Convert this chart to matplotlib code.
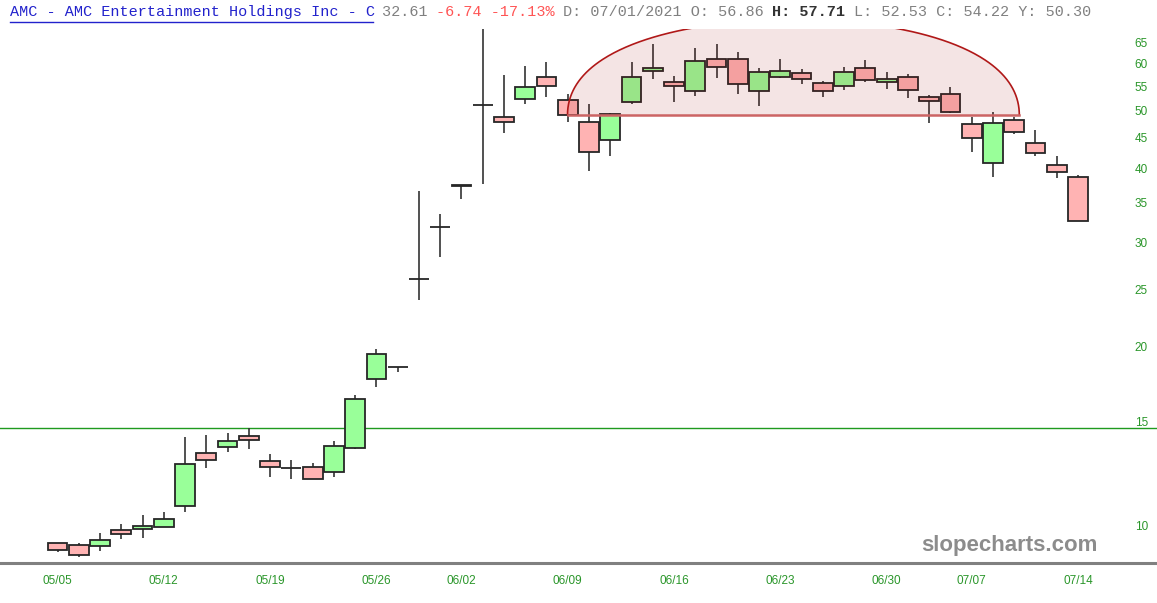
import numpy as np
import matplotlib
matplotlib.use('Agg')
import matplotlib.pyplot as plt
from matplotlib.lines import Line2D
from matplotlib.ticker import NullLocator, FixedLocator, FixedFormatter

# ---------------- data ----------------
dates = ['05/05', '05/06', '05/07', '05/10', '05/11', '05/12', '05/13', '05/14', '05/17', '05/18',
         '05/19', '05/20', '05/21', '05/24', '05/25', '05/26', '05/27', '05/28', '06/01', '06/02',
         '06/03', '06/04', '06/07', '06/08', '06/09', '06/10', '06/11', '06/14', '06/15', '06/16',
         '06/17', '06/18', '06/21', '06/22', '06/23', '06/24', '06/25', '06/28', '06/29', '06/30',
         '07/01', '07/02', '07/06', '07/07', '07/08', '07/09', '07/12', '07/13', '07/14']
opens = [9.33, 9.26, 9.24, 9.82, 9.86, 9.96, 10.80, 13.23, 13.58, 14.17,
         12.86, 12.50, 12.53, 12.29, 13.52, 17.63, 18.52, 26.05, 31.80, 37.40,
         51.20, 48.72, 52.31, 57.03, 52.04, 47.78, 44.56, 51.70, 58.24, 55.93,
         53.89, 61.16, 61.16, 53.95, 56.90, 57.78, 55.59, 54.95, 58.92, 55.80,
         56.86, 52.65, 53.33, 47.52, 40.76, 48.22, 44.15, 40.44, 38.60]
highs = [9.36, 9.33, 9.70, 10.06, 10.40, 10.54, 14.11, 14.22, 14.30, 14.58,
         13.21, 12.89, 12.73, 13.88, 16.57, 19.83, 18.53, 36.61, 33.44, 37.45,
         72.62, 57.41, 59.52, 60.45, 53.27, 51.36, 49.50, 60.38, 64.67, 57.19,
         63.68, 64.74, 62.84, 58.90, 61.00, 58.69, 56.09, 59.22, 60.92, 58.08,
         57.71, 53.06, 54.86, 48.83, 49.67, 48.72, 46.32, 41.97, 39.00]
lows = [9.01, 8.86, 9.07, 9.49, 9.52, 9.94, 10.55, 12.49, 13.29, 13.47,
        12.06, 11.96, 11.96, 12.09, 13.44, 17.13, 18.16, 24.01, 28.37, 35.45,
        37.57, 45.89, 51.36, 52.65, 47.90, 39.56, 41.88, 51.30, 56.59, 51.70,
        52.85, 56.67, 53.27, 50.90, 56.67, 55.50, 52.77, 54.23, 55.93, 54.44,
        52.53, 47.60, 49.50, 42.64, 38.60, 45.67, 41.93, 38.55, 32.61]
closes = [9.09, 8.92, 9.44, 9.67, 9.97, 10.25, 12.68, 12.88, 13.86, 13.92,
          12.55, 12.48, 11.99, 13.60, 16.32, 19.45, 18.49, 26.00, 31.90, 37.36,
          51.12, 47.78, 54.86, 54.95, 49.16, 42.64, 49.29, 56.90, 58.92, 55.02,
          60.61, 59.15, 55.50, 58.08, 58.20, 56.52, 53.89, 58.02, 56.31, 56.52,
          54.22, 51.84, 49.80, 44.91, 47.71, 46.08, 42.47, 39.35, 32.61]
date_ticks = ['05/05', '05/12', '05/19', '05/26', '06/02', '06/09', '06/16', '06/23', '06/30', '07/07', '07/14']
price_ticks = [10, 15, 20, 25, 30, 35, 40, 45, 50, 55, 60, 65]
hline_price = 14.6
# drawn annotation (rounded-top shape) parameters, in data units
arc_start, arc_end = 23.99, 45.24
arc_base, arc_height = 49.2, 22.0

# ---------------- figure ----------------
W, H = 1157, 603
fig = plt.figure(figsize=(W / 100, H / 100), dpi=100)
top_px, bot_px = 29, 563
ax = fig.add_axes([0, 1 - bot_px / H, 1, (bot_px - top_px) / H])
ax.set_yscale('log')
ax.set_ylim(8.65, 68.62)
sp = 21.26
ax.set_xlim(-57.5 / sp, (W - 57.5) / sp)

x = np.arange(len(dates))
o = np.array(opens); c = np.array(closes)
up = c >= o
cols = np.where(up, '#99ff99', '#ffb3b3')

ax.vlines(x, lows, highs, color='#333333', lw=1.2, zorder=2)
ax.bar(x, np.abs(c - o), bottom=np.minimum(o, c), width=0.93, color=cols,
       edgecolor='#262626', linewidth=1.3, zorder=3)

ax.axhline(hline_price, color='#1f9a1f', lw=1.0, zorder=1)

# shaded dome annotation
t = np.linspace(0, np.pi, 300)
cx = (arc_start + arc_end) / 2
a = (arc_end - arc_start) / 2
xs = cx - a * np.cos(t)
ys = arc_base + arc_height * np.sin(t)
ax.fill_between(xs, arc_base, ys, color=(160 / 255, 0, 0), alpha=0.105, lw=0, zorder=4)
ax.plot(xs, ys, color='#b01818', lw=1.2, zorder=5)
ax.plot([arc_start, arc_end], [arc_base, arc_base], color='#cc6464', lw=1.8, zorder=5)

# axes styling
for s in ['top', 'left', 'right']:
    ax.spines[s].set_visible(False)
ax.spines['bottom'].set_color('#808080')
ax.spines['bottom'].set_linewidth(2.2)

ax.yaxis.tick_right()
ax.yaxis.set_major_locator(FixedLocator(price_ticks))
ax.yaxis.set_major_formatter(FixedFormatter([str(p) for p in price_ticks]))
ax.yaxis.set_minor_locator(NullLocator())
ax.tick_params(axis='y', length=0, pad=-16, labelcolor='#2a962a', labelsize=8.5)
for lab in ax.get_yticklabels():
    lab.set_fontfamily('Liberation Sans')

tick_idx = [dates.index(d) for d in date_ticks]
ax.set_xticks(tick_idx)
ax.set_xticklabels(date_ticks, fontfamily='Liberation Sans')
ax.tick_params(axis='x', length=0, pad=8.5, labelcolor='#2a962a', labelsize=8.5)

# header
adv = 9.07
def htext(col, s, color, weight='normal'):
    fig.text((10 + adv * col) / W, 1 - 12 / H, s, color=color, fontsize=10.9,
             fontfamily='Liberation Mono', fontweight=weight, va='center', ha='left')

title = 'AMC - AMC Entertainment Holdings Inc - C'
htext(0, title, '#2222cc')
htext(41, '32.61', '#808080')
htext(47, '-6.74 -17.13%', '#ff5555')
htext(61, 'D: 07/01/2021 O: 56.86', '#808080')
htext(84, 'H: 57.71', '#333333', 'bold')
htext(93, 'L: 52.53 C: 54.22 Y: 50.30', '#808080')
fig.add_artist(Line2D([10 / W, (10 + adv * len(title)) / W], [1 - 22 / H, 1 - 22 / H],
                      color='#2222cc', lw=1.0))

fig.text(1098 / W, 1 - 546 / H, 'slopecharts.com', ha='right', va='center', fontsize=16,
         fontweight='bold', color='#8c8c8c', fontfamily='Liberation Sans')

fig.savefig('out.png', dpi=100)
